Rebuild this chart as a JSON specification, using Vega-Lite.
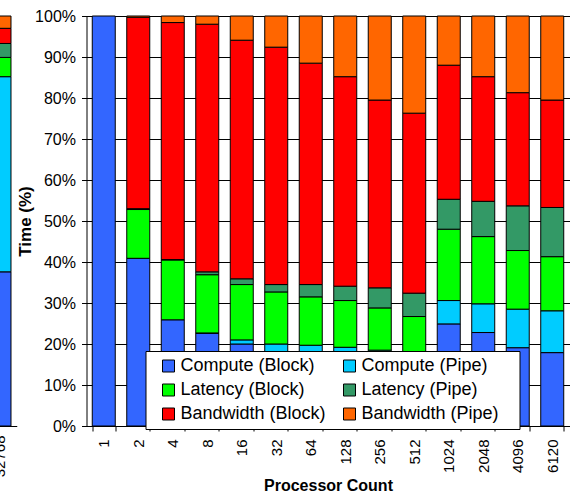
{
  "$schema": "https://vega.github.io/schema/vega-lite/v6.json",
  "autosize": {"type": "pad"},
  "padding": {"left": -17.75, "top": 8, "right": 3, "bottom": 0},
  "background": "white",
  "spacing": 69.25,
  "bounds": "flush",
  "resolve": {"legend": {"color": "independent"}},
  "config": {"view": {"stroke": null}, "font": "Liberation Sans"},
  "data": {"values": [
    {"p": "32768", "s": "Compute (Block)", "k": 1, "v": 37.6},
    {"p": "32768", "s": "Compute (Pipe)", "k": 2, "v": 47.6},
    {"p": "32768", "s": "Latency (Block)", "k": 3, "v": 4.7},
    {"p": "32768", "s": "Latency (Pipe)", "k": 4, "v": 3.4},
    {"p": "32768", "s": "Bandwidth (Block)", "k": 5, "v": 3.7},
    {"p": "32768", "s": "Bandwidth (Pipe)", "k": 6, "v": 3.0},
    {"p": "1", "s": "Compute (Block)", "k": 1, "v": 100},
    {"p": "2", "s": "Compute (Block)", "k": 1, "v": 40.9},
    {"p": "2", "s": "Latency (Block)", "k": 3, "v": 11.9},
    {"p": "2", "s": "Latency (Pipe)", "k": 4, "v": 0.2},
    {"p": "2", "s": "Bandwidth (Block)", "k": 5, "v": 46.7},
    {"p": "2", "s": "Bandwidth (Pipe)", "k": 6, "v": 0.3},
    {"p": "4", "s": "Compute (Block)", "k": 1, "v": 25.9},
    {"p": "4", "s": "Latency (Block)", "k": 3, "v": 14.6},
    {"p": "4", "s": "Latency (Pipe)", "k": 4, "v": 0.1},
    {"p": "4", "s": "Bandwidth (Block)", "k": 5, "v": 57.8},
    {"p": "4", "s": "Bandwidth (Pipe)", "k": 6, "v": 1.6},
    {"p": "8", "s": "Compute (Block)", "k": 1, "v": 22.6},
    {"p": "8", "s": "Compute (Pipe)", "k": 2, "v": 0.1},
    {"p": "8", "s": "Latency (Block)", "k": 3, "v": 14.2},
    {"p": "8", "s": "Latency (Pipe)", "k": 4, "v": 0.7},
    {"p": "8", "s": "Bandwidth (Block)", "k": 5, "v": 60.4},
    {"p": "8", "s": "Bandwidth (Pipe)", "k": 6, "v": 2.0},
    {"p": "16", "s": "Compute (Block)", "k": 1, "v": 20.0},
    {"p": "16", "s": "Compute (Pipe)", "k": 2, "v": 1.0},
    {"p": "16", "s": "Latency (Block)", "k": 3, "v": 13.5},
    {"p": "16", "s": "Latency (Pipe)", "k": 4, "v": 1.4},
    {"p": "16", "s": "Bandwidth (Block)", "k": 5, "v": 58.2},
    {"p": "16", "s": "Bandwidth (Pipe)", "k": 6, "v": 5.9},
    {"p": "32", "s": "Compute (Block)", "k": 1, "v": 17.5},
    {"p": "32", "s": "Compute (Pipe)", "k": 2, "v": 2.5},
    {"p": "32", "s": "Latency (Block)", "k": 3, "v": 12.7},
    {"p": "32", "s": "Latency (Pipe)", "k": 4, "v": 1.8},
    {"p": "32", "s": "Bandwidth (Block)", "k": 5, "v": 57.9},
    {"p": "32", "s": "Bandwidth (Pipe)", "k": 6, "v": 7.6},
    {"p": "64", "s": "Compute (Block)", "k": 1, "v": 17.0},
    {"p": "64", "s": "Compute (Pipe)", "k": 2, "v": 2.7},
    {"p": "64", "s": "Latency (Block)", "k": 3, "v": 11.8},
    {"p": "64", "s": "Latency (Pipe)", "k": 4, "v": 3.0},
    {"p": "64", "s": "Bandwidth (Block)", "k": 5, "v": 54.0},
    {"p": "64", "s": "Bandwidth (Pipe)", "k": 6, "v": 11.5},
    {"p": "128", "s": "Compute (Block)", "k": 1, "v": 16.8},
    {"p": "128", "s": "Compute (Pipe)", "k": 2, "v": 2.4},
    {"p": "128", "s": "Latency (Block)", "k": 3, "v": 11.4},
    {"p": "128", "s": "Latency (Pipe)", "k": 4, "v": 3.5},
    {"p": "128", "s": "Bandwidth (Block)", "k": 5, "v": 51.1},
    {"p": "128", "s": "Bandwidth (Pipe)", "k": 6, "v": 14.8},
    {"p": "256", "s": "Compute (Block)", "k": 1, "v": 16.5},
    {"p": "256", "s": "Compute (Pipe)", "k": 2, "v": 2.0},
    {"p": "256", "s": "Latency (Block)", "k": 3, "v": 10.3},
    {"p": "256", "s": "Latency (Pipe)", "k": 4, "v": 4.9},
    {"p": "256", "s": "Bandwidth (Block)", "k": 5, "v": 45.8},
    {"p": "256", "s": "Bandwidth (Pipe)", "k": 6, "v": 20.5},
    {"p": "512", "s": "Compute (Block)", "k": 1, "v": 16.0},
    {"p": "512", "s": "Compute (Pipe)", "k": 2, "v": 2.0},
    {"p": "512", "s": "Latency (Block)", "k": 3, "v": 8.7},
    {"p": "512", "s": "Latency (Pipe)", "k": 4, "v": 5.7},
    {"p": "512", "s": "Bandwidth (Block)", "k": 5, "v": 43.9},
    {"p": "512", "s": "Bandwidth (Pipe)", "k": 6, "v": 23.7},
    {"p": "1024", "s": "Compute (Block)", "k": 1, "v": 24.9},
    {"p": "1024", "s": "Compute (Pipe)", "k": 2, "v": 5.7},
    {"p": "1024", "s": "Latency (Block)", "k": 3, "v": 17.4},
    {"p": "1024", "s": "Latency (Pipe)", "k": 4, "v": 7.3},
    {"p": "1024", "s": "Bandwidth (Block)", "k": 5, "v": 32.7},
    {"p": "1024", "s": "Bandwidth (Pipe)", "k": 6, "v": 12.0},
    {"p": "2048", "s": "Compute (Block)", "k": 1, "v": 22.8},
    {"p": "2048", "s": "Compute (Pipe)", "k": 2, "v": 7.0},
    {"p": "2048", "s": "Latency (Block)", "k": 3, "v": 16.4},
    {"p": "2048", "s": "Latency (Pipe)", "k": 4, "v": 8.6},
    {"p": "2048", "s": "Bandwidth (Block)", "k": 5, "v": 30.4},
    {"p": "2048", "s": "Bandwidth (Pipe)", "k": 6, "v": 14.8},
    {"p": "4096", "s": "Compute (Block)", "k": 1, "v": 19.1},
    {"p": "4096", "s": "Compute (Pipe)", "k": 2, "v": 9.4},
    {"p": "4096", "s": "Latency (Block)", "k": 3, "v": 14.3},
    {"p": "4096", "s": "Latency (Pipe)", "k": 4, "v": 10.9},
    {"p": "4096", "s": "Bandwidth (Block)", "k": 5, "v": 27.6},
    {"p": "4096", "s": "Bandwidth (Pipe)", "k": 6, "v": 18.7},
    {"p": "6120", "s": "Compute (Block)", "k": 1, "v": 17.9},
    {"p": "6120", "s": "Compute (Pipe)", "k": 2, "v": 10.2},
    {"p": "6120", "s": "Latency (Block)", "k": 3, "v": 13.2},
    {"p": "6120", "s": "Latency (Pipe)", "k": 4, "v": 12.0},
    {"p": "6120", "s": "Bandwidth (Block)", "k": 5, "v": 26.2},
    {"p": "6120", "s": "Bandwidth (Pipe)", "k": 6, "v": 20.5}
  ]},
  "hconcat": [
    {
      "width": 34.5,
      "height": 410,
      "transform": [{"filter": "datum.p == '32768'"}],
      "mark": {"type": "bar", "stroke": "black", "strokeWidth": 1},
      "encoding": {
        "x": {
          "field": "p", "type": "ordinal", "sort": null,
          "scale": {"paddingInner": 0.3333, "paddingOuter": 0.1667},
          "axis": {
            "title": null, "labelAngle": -90, "labelFontSize": 15, "labelColor": "black", "labelPadding": 9,
            "ticks": false, "domainColor": "black", "grid": false
          }
        },
        "y": {
          "field": "v", "type": "quantitative", "stack": "normalize",
          "scale": {"domain": [0, 1], "nice": false},
          "axis": null
        },
        "color": {
          "field": "s", "type": "nominal",
          "scale": {
            "domain": ["Compute (Block)", "Compute (Pipe)", "Latency (Block)", "Latency (Pipe)", "Bandwidth (Block)", "Bandwidth (Pipe)"],
            "range": ["#3366FF", "#00CCFF", "#00FF00", "#339966", "#FF0000", "#FF6600"]
          },
          "legend": null
        },
        "order": {"field": "k", "type": "quantitative"}
      }
    },
    {
      "width": 483,
      "height": 410,
      "transform": [{"filter": "datum.p != '32768'"}],
      "mark": {"type": "bar", "stroke": "black", "strokeWidth": 1},
      "encoding": {
        "x": {
          "field": "p", "type": "ordinal", "sort": null,
          "scale": {"paddingInner": 0.3333, "paddingOuter": 0.1667},
          "axis": {
            "title": "Processor Count", "titleFontSize": 16, "titleFontWeight": "bold", "titleColor": "black", "titlePadding": 5,
            "labelAngle": -90, "labelFontSize": 15, "labelColor": "black", "labelPadding": 8,
            "tickBand": "extent", "tickSize": 5, "tickColor": "black", "domainColor": "black", "grid": false
          }
        },
        "y": {
          "field": "v", "type": "quantitative", "stack": "normalize",
          "scale": {"domain": [0, 1], "nice": false},
          "axis": {
            "title": "Time (%)", "titleFontSize": 17, "titleFontWeight": "bold", "titleColor": "black", "titlePadding": 0,
            "values": [0, 0.1, 0.2, 0.3, 0.4, 0.5, 0.6, 0.7, 0.8, 0.9, 1], "format": ".0%",
            "labelFontSize": 16, "labelColor": "black", "labelPadding": 6,
            "grid": true, "gridColor": "black", "gridOpacity": 1, "gridWidth": 1,
            "tickSize": 5, "tickColor": "black", "domainColor": "black"
          }
        },
        "color": {
          "field": "s", "type": "nominal",
          "scale": {
            "domain": ["Compute (Block)", "Compute (Pipe)", "Latency (Block)", "Latency (Pipe)", "Bandwidth (Block)", "Bandwidth (Pipe)"],
            "range": ["#3366FF", "#00CCFF", "#00FF00", "#339966", "#FF0000", "#FF6600"]
          },
          "legend": {
            "title": "\u00a0", "titleOrient": "right", "titlePadding": 15, "titleFontSize": 1,
            "orient": "none", "legendX": 59, "legendY": 335, "columns": 2, "direction": "horizontal",
            "fillColor": "white", "strokeColor": "black", "padding": 6,
            "symbolType": "square", "symbolSize": 144, "symbolStrokeColor": "black", "symbolStrokeWidth": 1, "symbolOffset": 8,
            "labelFontSize": 18, "labelColor": "black", "labelOffset": 3, "rowPadding": 6, "columnPadding": 6
          }
        },
        "order": {"field": "k", "type": "quantitative"}
      }
    }
  ]
}
